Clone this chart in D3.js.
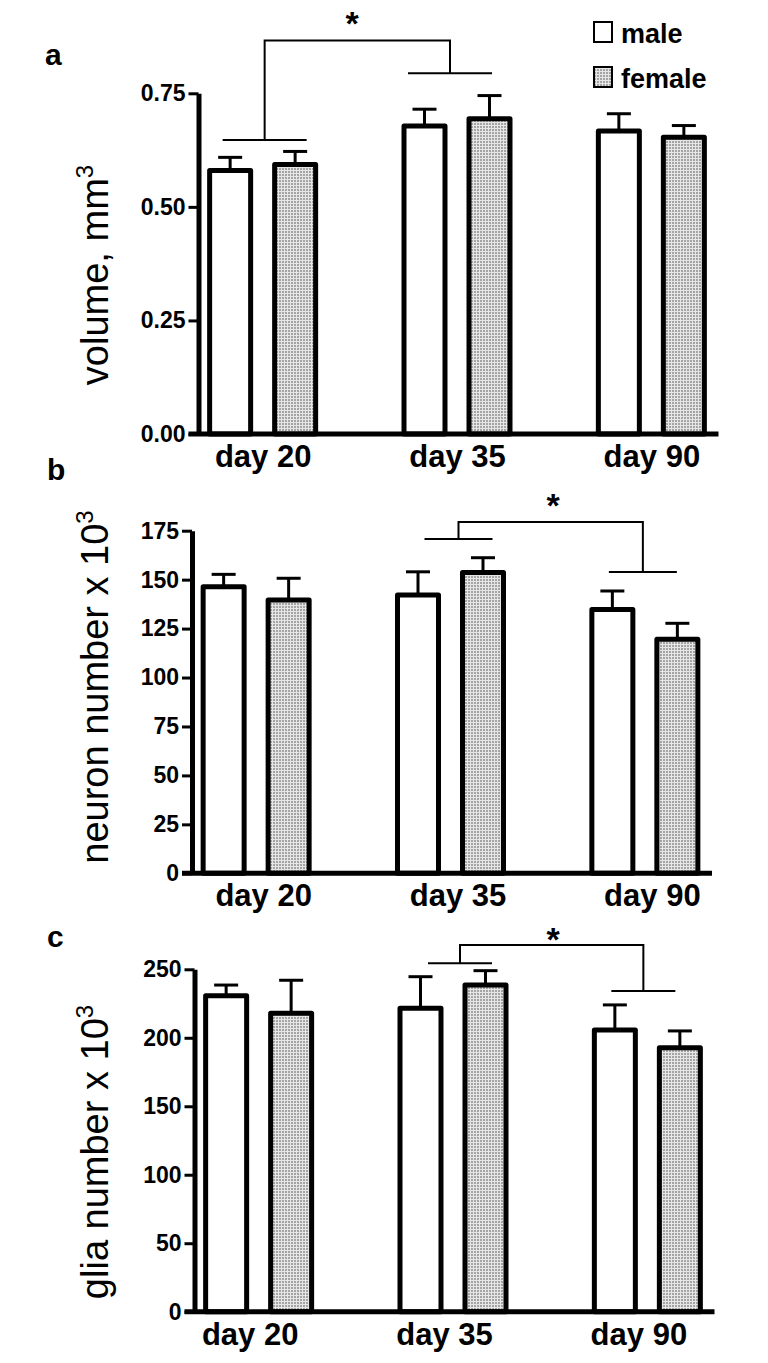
<!DOCTYPE html>
<html><head><meta charset="utf-8">
<script src="https://cdn.jsdelivr.net/npm/d3@7"></script>
<style>
html,body{margin:0;padding:0;background:#fff;}
svg{display:block;}
text{font-family:"Liberation Sans",Arial,sans-serif;fill:#000;}
</style></head>
<body>
<svg id="chart" width="768" height="1363"></svg>
<script>
// ---------- data ----------
const categories = ["day 20", "day 35", "day 90"];
const seriesNames = ["male", "female"];

const volumeMale      = [0.580, 0.678, 0.667];
const volumeMaleErr   = [0.029, 0.037, 0.038];
const volumeFemale    = [0.593, 0.694, 0.653];
const volumeFemaleErr = [0.029, 0.051, 0.026];
const volumeTicks     = [0, 0.25, 0.50, 0.75];

const neuronMale      = [146.4, 142.1, 134.8];
const neuronMaleErr   = [6.3, 11.9, 9.4];
const neuronFemale    = [139.6, 153.7, 119.5];
const neuronFemaleErr = [11.1, 7.5, 8.2];
const neuronTicks     = [0, 25, 50, 75, 100, 125, 150, 175];

const gliaMale        = [230.7, 221.5, 205.7];
const gliaMaleErr     = [7.8, 23.1, 18.3];
const gliaFemale      = [217.9, 238.5, 192.8];
const gliaFemaleErr   = [24.1, 10.5, 12.2];
const gliaTicks       = [0, 50, 100, 150, 200, 250];

// significance brackets: [from category, to category, level under-left, top level, level under-right]
const volumeBracket = ["day 20", "day 35", 0.647, 0.866, 0.794];
const neuronBracket = ["day 35", "day 90", 170.7, 179.4, 153.9];
const gliaBracket   = ["day 35", "day 90", 254.4, 267.7, 234.2];

// ---------- layout ----------
const panels = [
  {letter:"a", label:"volume, mm", male:volumeMale, maleErr:volumeMaleErr, female:volumeFemale, femaleErr:volumeFemaleErr,
   ticks:volumeTicks, fmt:d3.format(".2f"), max:0.75, axisX:198.5, y0:434, yTop:93.3,
   letterPos:[45,65], labelMid:275, xLabelShift:0, bracket:volumeBracket,
   bOff:[2, -7], bHalf:42, star:[352,35]},
  {letter:"b", label:"neuron number x 10", male:neuronMale, maleErr:neuronMaleErr, female:neuronFemale, femaleErr:neuronFemaleErr,
   ticks:neuronTicks, fmt:d3.format("d"), max:175, axisX:192, y0:873.3, yTop:530.7,
   letterPos:[47,480], labelMid:687, xLabelShift:7, bracket:neuronBracket,
   bOff:[8, -2], bHalf:34, star:[553,517]},
  {letter:"c", label:"glia number x 10", male:gliaMale, maleErr:gliaMaleErr, female:gliaFemale, femaleErr:gliaFemaleErr,
   ticks:gliaTicks, fmt:d3.format("d"), max:250, axisX:194.5, y0:1311.7, yTop:969.3,
   letterPos:[47,947], labelMid:1152, xLabelShift:-9, bracket:gliaBracket,
   bOff:[7, -4], bHalf:32, star:[553,951]}
];

const svg = d3.select("#chart");

// pattern for female bars
const defs = svg.append("defs");
const pat = defs.append("pattern").attr("id","dots").attr("patternUnits","userSpaceOnUse")
  .attr("width",3).attr("height",3);
pat.append("rect").attr("width",3).attr("height",3).attr("fill","#e6e6e6");
pat.append("rect").attr("width",2).attr("height",2).attr("fill","#a4a4a4");

const barW = 41;

panels.forEach(p => {
  const g = svg.append("g");
  const x = d3.scalePoint().domain(categories).range([p.axisX, p.axisX + 517]).padding(0.33);
  const xs = d3.scalePoint().domain(seriesNames).range([-32.5, 32.5]);
  const y = d3.scaleLinear().domain([0, p.max]).range([p.y0, p.yTop]);

  const rows = [];
  categories.forEach((c, i) => {
    rows.push({cat:c, s:"male", v:p.male[i], e:p.maleErr[i]});
    rows.push({cat:c, s:"female", v:p.female[i], e:p.femaleErr[i]});
  });

  // error bars
  rows.forEach(r => {
    const cx = x(r.cat) + xs(r.s);
    g.append("line").attr("x1",cx).attr("x2",cx).attr("y1",y(r.v)).attr("y2",y(r.v + r.e))
      .attr("stroke","#000").attr("stroke-width",3);
    g.append("line").attr("x1",cx-12).attr("x2",cx+12).attr("y1",y(r.v + r.e)).attr("y2",y(r.v + r.e))
      .attr("stroke","#000").attr("stroke-width",3);
  });

  // bars
  g.selectAll("rect.bar").data(rows).enter().append("rect").attr("class","bar")
    .attr("x", r => x(r.cat) + xs(r.s) - barW/2)
    .attr("y", r => y(r.v))
    .attr("width", barW)
    .attr("height", r => y(0) - y(r.v))
    .attr("fill", r => r.s === "male" ? "#fff" : "url(#dots)")
    .attr("stroke","#000").attr("stroke-width",5).attr("stroke-linejoin","round");

  // y axis
  const yAxis = d3.axisLeft(y).tickValues(p.ticks).tickFormat(p.fmt).tickSize(10).tickSizeOuter(0).tickPadding(3);
  const ya = g.append("g").attr("transform",`translate(${p.axisX},0)`).call(yAxis);
  ya.select(".domain").attr("stroke","#000").attr("stroke-width",5);
  ya.selectAll(".tick line").attr("stroke","#000").attr("stroke-width",3);
  ya.selectAll(".tick text").attr("font-size",23).attr("font-weight","bold")
    .style("font-family","'Liberation Sans',Arial,sans-serif").attr("fill","#000");

  // x axis line
  g.append("line").attr("x1", p.axisX - 10).attr("x2", x.range()[1] + 3)
    .attr("y1", y(0)).attr("y2", y(0)).attr("stroke","#000").attr("stroke-width",5);

  // x labels
  const xAxis = d3.axisBottom(x).tickSize(0).tickPadding(0);
  const xa = g.append("g").attr("transform",`translate(${p.xLabelShift},${y(0)})`).call(xAxis);
  xa.select(".domain").remove();
  xa.selectAll(".tick text").attr("dy",null).attr("y",33).attr("font-size",31).attr("font-weight","bold")
    .style("font-family","'Liberation Sans',Arial,sans-serif").attr("fill","#000");

  // panel letter
  g.append("text").attr("x",p.letterPos[0]).attr("y",p.letterPos[1])
    .attr("font-size",30).attr("font-weight","bold").text(p.letter);

  // y label
  const yl = g.append("text").attr("transform",`translate(108,${p.labelMid}) rotate(-90)`)
    .attr("text-anchor","middle").attr("font-size",38);
  yl.append("tspan").text(p.label);
  yl.append("tspan").attr("font-size",24).attr("dy",-15).text("3");

  // significance bracket
  const [c1, c2, lv1, lvTop, lv2] = p.bracket;
  const xa1 = x(c1) + p.bOff[0], xa2 = x(c2) + p.bOff[1];
  const br = g.append("g").attr("stroke","#000").attr("stroke-width",2).attr("fill","none");
  br.append("line").attr("x1", xa1 - p.bHalf).attr("x2", xa1 + p.bHalf).attr("y1", y(lv1)).attr("y2", y(lv1));
  br.append("line").attr("x1", xa2 - p.bHalf).attr("x2", xa2 + p.bHalf).attr("y1", y(lv2)).attr("y2", y(lv2));
  br.append("path").attr("d", `M${xa1},${y(lv1)}V${y(lvTop)}H${xa2}V${y(lv2)}`);
  g.append("text").attr("x",p.star[0]).attr("y",p.star[1]).attr("text-anchor","middle")
    .attr("font-size",34).attr("font-weight","bold").text("*");
});

// legend
const legend = svg.append("g");
const legendRows = [{s:"male", y:22}, {s:"female", y:67}];
legendRows.forEach(r => {
  legend.append("rect").attr("x",594).attr("y",r.y).attr("width",18).attr("height",20)
    .attr("fill", r.s === "male" ? "#fff" : "url(#dots)").attr("stroke","#000").attr("stroke-width",2);
  legend.append("text").attr("x",621).attr("y",r.y + 20.5).attr("font-size",27).attr("font-weight","bold").text(r.s);
});
</script>
</body></html>
